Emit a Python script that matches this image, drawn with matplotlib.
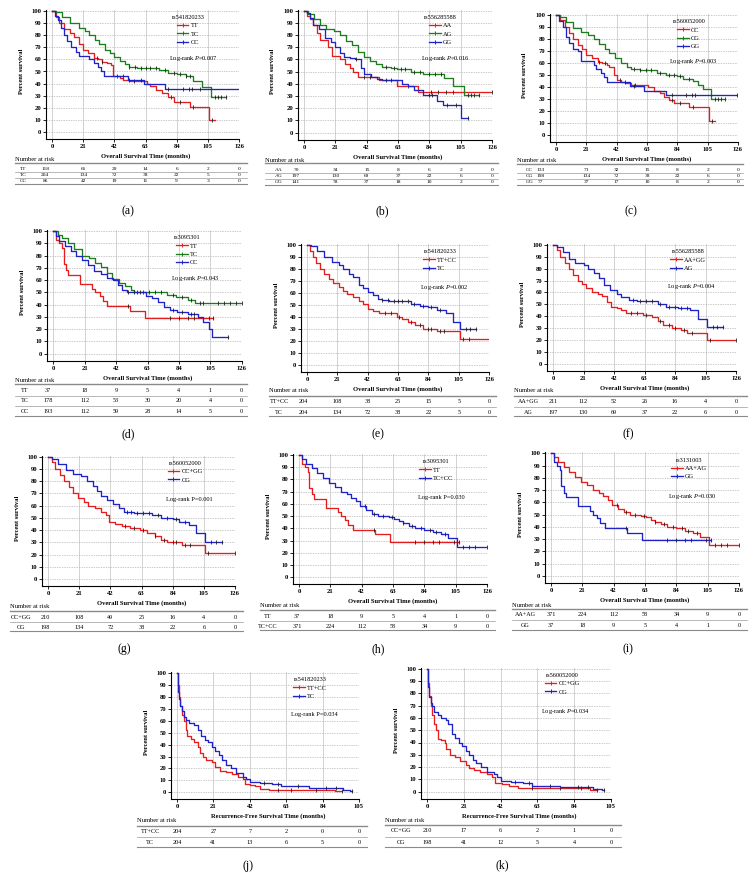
import numpy as np
import matplotlib
matplotlib.use("Agg")
import matplotlib.pyplot as plt
from matplotlib.lines import Line2D
from matplotlib.transforms import blended_transform_factory

plt.rcParams['font.family'] = ['Liberation Serif', 'DejaVu Serif']
plt.rcParams['mathtext.fontset'] = 'custom'
plt.rcParams['mathtext.rm'] = 'Liberation Serif'
plt.rcParams['mathtext.it'] = 'Liberation Serif:italic'
plt.rcParams['mathtext.bf'] = 'Liberation Serif:bold'

# ======================= DATA =======================
os_ticks = [0, 21, 42, 63, 84, 105, 126]
rfs_ticks = [0, 21, 42, 63, 84, 105]
y_ticks = [0, 10, 20, 30, 40, 50, 60, 70, 80, 90, 100]

# (a) rs541820233
a_TT_t = [0, 3, 5, 8, 12, 15, 18, 21, 24, 28, 31, 34, 37, 40, 41, 46, 48, 52, 64, 66, 70, 74, 78, 82, 93, 106]
a_TT_s = [100, 95, 90, 85, 82, 78, 73, 68, 65, 61, 60, 58, 57, 55, 46, 45, 43, 42, 40, 38, 35, 32, 29, 25, 21, 10]
a_TT_end = 110
a_TT_c = [30, 34, 44, 55, 80, 86, 95, 108]
a_TC_t = [0, 3, 7, 12, 18, 22, 25, 29, 32, 36, 39, 42, 46, 49, 52, 57, 72, 78, 84, 90, 95, 101, 107]
a_TC_s = [100, 99, 95, 90, 86, 83, 80, 76, 73, 68, 65, 62, 59, 56, 54, 53, 51, 49, 48, 46, 42, 37, 29]
a_TC_end = 117
a_TC_c = [52, 56, 60, 63, 66, 70, 76, 82, 86, 90, 93, 110, 112, 114, 117]
a_CC_t = [0, 2, 4, 6, 8, 10, 13, 16, 18, 25, 28, 31, 33, 35, 51, 62, 76]
a_CC_s = [100, 96, 92, 86, 80, 75, 70, 66, 63, 60, 57, 54, 50, 46, 43, 40, 36]
a_CC_end = 126
a_CC_c = [48, 52, 60, 78, 88, 92, 94, 100]
a_risk_TT = [118, 66, 29, 14, 6, 2, 0]
a_risk_TC = [204, 134, 72, 38, 22, 5, 0]
a_risk_CC = [86, 42, 19, 11, 9, 3, 0]

# (b) rs556285588
b_AA_t = [0, 2, 4, 6, 8.5, 10.5, 16, 18.5, 24, 27.5, 31, 33, 36.4, 50, 62, 76.6]
b_AA_s = [100, 96, 93, 88, 82, 76, 70, 63, 60, 56, 53, 50, 46, 43, 38, 33]
b_AA_end = 126
b_AA_c = [40, 44, 70, 85, 90, 95, 100, 126]
b_AG_t = [0, 3, 7, 11, 15, 20, 24, 28, 32, 36, 40, 44, 48, 52, 58, 62, 72, 80, 94, 100, 107]
b_AG_s = [100, 97, 93, 88, 85, 83, 80, 75, 72, 66, 62, 59, 56, 54, 53, 52, 50, 48, 45, 38, 31]
b_AG_end = 117
b_AG_c = [55, 60, 65, 68, 74, 78, 84, 88, 92, 110, 112, 114, 117]
b_GG_t = [0, 2, 4, 6, 10, 14, 18, 21, 24, 27, 31, 34, 38, 40, 45, 49, 52, 66, 70, 74, 80, 89, 93, 105]
b_GG_s = [100, 98, 94, 88, 85, 78, 74, 70, 65, 62, 61, 60, 53, 48, 46, 44, 43, 40, 38, 35, 31, 26, 23, 12]
b_GG_end = 110
b_GG_c = [35, 55, 58, 84, 86, 96, 102, 110]
b_risk_AA = [70, 34, 15, 8, 6, 2, 0]
b_risk_AG = [197, 130, 69, 37, 22, 6, 0]
b_risk_GG = [141, 78, 37, 18, 10, 2, 0]

# (c) rs560052000
c_CC_t = [0, 3, 6, 9, 12, 15, 18, 21, 25, 29, 32, 35, 37, 40, 42, 45, 48, 52, 64, 68, 72, 75, 78, 82, 92, 106]
c_CC_s = [100, 96, 90, 85, 80, 75, 72, 67, 64, 61, 60, 58, 57, 50, 46, 44, 43, 42, 40, 37, 35, 32, 29, 27, 23, 12]
c_CC_end = 110
c_CC_c = [30, 34, 44, 55, 80, 86, 95, 108]
c_CG_t = [0, 3, 7, 12, 17, 22, 26, 30, 34, 37, 41, 45, 49, 52, 58, 70, 76, 84, 88, 95, 98, 102, 107]
c_CG_s = [100, 98, 94, 89, 86, 83, 80, 76, 72, 68, 64, 60, 57, 55, 54, 52, 50, 49, 47, 45, 42, 38, 30]
c_CG_end = 117
c_CG_c = [54, 58, 62, 66, 72, 78, 82, 86, 92, 110, 112, 114, 117]
c_GG_t = [0, 2, 5, 7, 9, 12, 15, 17, 26, 28, 31, 33, 35, 51, 61, 76]
c_GG_s = [100, 95, 90, 82, 77, 72, 70, 62, 58, 55, 52, 48, 44, 41, 37, 33]
c_GG_end = 125
c_GG_c = [48, 54, 80, 90, 94, 96, 125]
c_risk_CC = [133, 71, 32, 15, 8, 2, 0]
c_risk_CG = [198, 134, 72, 38, 22, 6, 0]
c_risk_GG = [77, 37, 17, 10, 8, 2, 0]

# (d) rs3095301
d_TT_t = [0, 2, 4, 6, 7, 8.5, 10, 18, 26, 28, 31, 33, 36, 51, 61]
d_TT_s = [100, 93, 90, 86, 73, 68, 64, 57, 53, 50, 47, 43, 39, 35, 29]
d_TT_end = 107
d_TT_c = [50, 78, 84, 90, 94, 104, 107]
d_TC_t = [0, 3, 6, 10, 14, 19, 24, 28, 32, 36, 39, 44, 48, 52, 54, 76, 82, 90, 95]
d_TC_s = [100, 97, 94, 90, 85, 80, 78, 74, 71, 66, 61, 58, 55, 52, 50, 48, 46, 44, 41]
d_TC_end = 126
d_TC_c = [56, 60, 64, 68, 72, 80, 86, 92, 98, 100, 110, 114, 118, 122, 126]
d_CC_t = [0, 2, 4, 8, 12, 15, 19, 23, 27, 32, 36, 40, 43, 46, 49, 62, 66, 70, 74, 78, 83, 90, 97, 100, 104, 106]
d_CC_s = [100, 96, 92, 88, 84, 80, 76, 72, 67, 65, 62, 60, 56, 52, 50, 47, 45, 42, 38, 36, 34, 32, 30, 26, 20, 14]
d_CC_end = 117
d_CC_c = [50, 54, 58, 80, 86, 92, 94, 117]
d_risk_TT = [37, 18, 9, 5, 4, 1, 0]
d_risk_TC = [178, 112, 53, 30, 20, 4, 0]
d_risk_CC = [193, 112, 59, 28, 14, 5, 0]

# (e) rs541820233 (dominant)
e_TTCC_t = [0, 2, 4, 6, 9, 12, 15, 18, 22, 25, 28, 32, 36, 39, 42, 46, 50, 62, 66, 70, 75, 80, 90, 106]
e_TTCC_s = [100, 95, 90, 85, 80, 76, 72, 68, 65, 62, 59, 57, 53, 51, 47, 45, 43, 40, 38, 36, 33, 30, 28, 22]
e_TTCC_end = 126
e_TTCC_c = [54, 58, 64, 72, 78, 84, 86, 92, 95, 108, 112]
e_TC_t = [0, 3, 7, 12, 17, 22, 25, 29, 32, 36, 39, 42, 46, 49, 52, 57, 72, 78, 84, 90, 96, 101, 106]
e_TC_s = [100, 99, 95, 90, 86, 83, 80, 76, 73, 67, 64, 61, 58, 55, 54, 53, 51, 49, 48, 46, 43, 36, 30]
e_TC_end = 117
e_TC_c = [52, 56, 60, 63, 66, 70, 74, 80, 86, 92, 110, 113, 117]
e_risk_TTCC = [204, 108, 38, 25, 15, 5, 0]
e_risk_TC = [204, 134, 72, 38, 22, 5, 0]

# (f) rs556285588 (dominant)
f_AAGG_t = [0, 3, 5, 8, 11, 14, 17, 20, 23, 27, 31, 34, 37, 40, 44, 47, 50, 62, 68, 72, 76, 82, 88, 92, 106]
f_AAGG_s = [100, 96, 90, 85, 80, 75, 70, 67, 64, 60, 59, 57, 52, 48, 47, 45, 43, 41, 39, 36, 33, 30, 28, 26, 20]
f_AAGG_end = 126
f_AAGG_c = [54, 58, 64, 74, 80, 84, 90, 96, 108, 126]
f_AG_t = [0, 3, 7, 11, 15, 21, 24, 28, 32, 35, 39, 44, 47, 52, 58, 72, 78, 86, 94, 100, 106]
f_AG_s = [100, 98, 94, 88, 85, 83, 80, 76, 72, 66, 62, 59, 56, 54, 53, 50, 48, 47, 45, 38, 31]
f_AG_end = 117
f_AG_c = [55, 60, 64, 68, 74, 80, 84, 88, 92, 110, 113, 117]
f_risk_AAGG = [211, 112, 52, 26, 16, 4, 0]
f_risk_AG = [197, 130, 69, 37, 22, 6, 0]

# (g) rs560052000 (dominant)
g_CCGG_t = [0, 3, 5, 8, 11, 14, 17, 20, 24, 27, 32, 36, 39, 41, 45, 50, 55, 62, 67, 72, 76, 80, 90, 106]
g_CCGG_s = [100, 96, 90, 85, 80, 75, 70, 66, 63, 60, 58, 55, 52, 47, 45, 43, 42, 40, 38, 35, 32, 30, 28, 21]
g_CCGG_end = 126
g_CCGG_c = [52, 58, 64, 72, 78, 84, 86, 92, 96, 108, 126]
g_CG_t = [0, 3, 7, 12, 17, 22, 26, 30, 33, 36, 40, 44, 48, 51, 58, 70, 76, 84, 88, 95, 100, 106]
g_CG_s = [100, 98, 94, 89, 86, 84, 80, 76, 72, 68, 65, 61, 58, 55, 54, 52, 50, 49, 47, 44, 38, 30]
g_CG_end = 117
g_CG_c = [53, 56, 60, 64, 68, 74, 80, 86, 92, 110, 113, 117]
g_risk_CCGG = [210, 108, 49, 25, 16, 4, 0]
g_risk_CG = [198, 134, 72, 38, 22, 6, 0]

# (h) rs3095301 (dominant)
h_TT_t = [0, 2, 4, 6, 7, 8.5, 10, 18, 26, 28, 31, 33, 36, 51, 61]
h_TT_s = [100, 93, 90, 86, 73, 68, 64, 57, 53, 50, 47, 43, 39, 35, 29]
h_TT_end = 107
h_TT_c = [50, 78, 84, 90, 94, 104, 107]
h_TCCC_t = [0, 2, 5, 9, 12, 16, 20, 24, 28, 32, 35, 38, 41, 45, 49, 53, 60, 64, 67, 70, 74, 78, 84, 90, 95, 100, 106]
h_TCCC_s = [100, 97, 93, 89, 85, 81, 77, 74, 70, 68, 65, 62, 58, 55, 52, 50, 49, 48, 46, 44, 42, 40, 39, 37, 35, 32, 25]
h_TCCC_end = 126
h_TCCC_c = [44, 50, 56, 62, 70, 76, 82, 88, 92, 98, 110, 114, 118, 126]
h_risk_TT = [37, 18, 9, 5, 4, 1, 0]
h_risk_TCCC = [371, 224, 112, 58, 34, 9, 0]

# (i) rs3131003
i_AAAG_t = [0, 2, 5, 9, 12, 16, 20, 24, 28, 32, 35, 38, 41, 45, 49, 53, 60, 64, 67, 70, 74, 78, 84, 90, 95, 100, 106]
i_AAAG_s = [100, 97, 93, 89, 85, 81, 77, 74, 70, 68, 65, 62, 58, 55, 52, 50, 49, 48, 46, 44, 42, 40, 39, 37, 35, 32, 25]
i_AAAG_end = 126
i_AAAG_c = [44, 50, 56, 62, 70, 76, 82, 88, 92, 98, 110, 114, 118, 126]
i_GG_t = [0, 2, 4, 6, 7, 8.5, 10, 18, 26, 28, 31, 33, 36, 51, 61]
i_GG_s = [100, 93, 90, 86, 73, 68, 64, 57, 53, 50, 47, 43, 39, 35, 29]
i_GG_end = 107
i_GG_c = [50, 78, 84, 90, 94, 104, 107]
i_risk_AAAG = [371, 224, 112, 58, 34, 9, 0]
i_risk_GG = [37, 18, 9, 5, 4, 1, 0]

# (j) rs541820233 RFS
j_TTCC_t = [0, 0.5, 1, 2, 3, 4, 5, 6, 8, 10, 12, 13, 15, 17, 20, 22, 25, 28, 32, 35, 38, 39, 42, 45, 48, 53, 91]
j_TTCC_s = [100, 90, 80, 72, 65, 60, 52, 47, 45, 42, 38, 33, 30, 27, 25, 21, 18, 17, 15, 13, 11, 7, 6, 5, 3, 2, 1]
j_TTCC_end = 95
j_TTCC_c = [58, 66, 80, 95]
j_TC_t = [0, 0.5, 1, 2, 3, 4, 5, 7, 10, 12, 14, 16, 18, 20, 22, 24, 26, 28, 31, 34, 38, 40, 42, 48, 55, 60, 76, 96, 100]
j_TC_s = [100, 84, 78, 72, 68, 63, 61, 58, 56, 52, 47, 44, 42, 38, 35, 31, 27, 23, 20, 16, 13, 11, 9, 8, 7, 5, 4, 2, 1]
j_TC_end = 101
j_TC_c = [50, 58, 70, 86, 92, 101]
j_risk_TTCC = [204, 27, 7, 2, 0, 0]
j_risk_TC = [204, 41, 13, 6, 5, 0]

# (k) rs560052000 RFS
k_CCGG_t = [0, 0.5, 1, 2, 3, 4, 5, 6, 8, 10, 11, 13, 16, 19, 22, 24, 27, 30, 34, 37, 39, 43, 47, 52, 93]
k_CCGG_s = [100, 88, 78, 70, 62, 55, 50, 43, 42, 40, 35, 30, 28, 25, 22, 19, 18, 16, 14, 12, 7, 6, 5, 3, 1]
k_CCGG_end = 97
k_CCGG_c = [60, 76, 88, 97]
k_CG_t = [0, 0.5, 1, 2, 3, 4, 6, 8, 11, 12, 14, 16, 18, 20, 22, 24, 26, 28, 31, 34, 38, 40, 42, 48, 55, 60, 76, 95, 100]
k_CG_s = [100, 85, 77, 72, 70, 65, 62, 60, 58, 55, 47, 44, 40, 37, 33, 30, 26, 23, 20, 16, 14, 12, 9, 8, 7, 5, 4, 2, 1]
k_CG_end = 101
k_CG_c = [50, 58, 70, 86, 92, 101]
k_risk_CCGG = [210, 17, 6, 2, 1, 0]
k_risk_CG = [198, 41, 12, 5, 4, 0]

# ======================= STYLE / LAYOUT =======================
RED, GREEN, BLUE = '#e41e1e', '#1b7d1b', '#1f22c6'
W, H = 755, 892
OS_LABEL = 'Overall Survival Time (months)'
RFS_LABEL = 'Recurrence-Free Survival Time (months)'

panels = [
    dict(cap='(a)', snp='rs541820233', p=r'Log-rank $P$=0.007', xmax=126, ticks=os_ticks, xl=OS_LABEL,
         px=(52, 239, 10.7, 132.3), cappos=(128, 211), tfs=3.9,
         tab=(15, 246.7, 159.3, 163.3, [169.3, 175.2, 181.0], 184.0, 23.3, -4.7),
         groups=[('TT', a_TT_t, a_TT_s, a_TT_end, a_TT_c, RED, a_risk_TT),
                 ('TC', a_TC_t, a_TC_s, a_TC_end, a_TC_c, GREEN, a_risk_TC),
                 ('CC', a_CC_t, a_CC_s, a_CC_end, a_CC_c, BLUE, a_risk_CC)]),
    dict(cap='(b)', snp='rs556285588', p=r'Log-rank $P$=0.016', xmax=126, ticks=os_ticks, xl=OS_LABEL,
         px=(304, 492, 10.7, 132.7), cappos=(382, 211), tfs=3.9,
         tab=(265, 498.3, 160, 163.3, [170, 175.9, 181.8], 184.6, 279, -5.4),
         groups=[('AA', b_AA_t, b_AA_s, b_AA_end, b_AA_c, RED, b_risk_AA),
                 ('AG', b_AG_t, b_AG_s, b_AG_end, b_AG_c, GREEN, b_risk_AG),
                 ('GG', b_GG_t, b_GG_s, b_GG_end, b_GG_c, BLUE, b_risk_GG)]),
    dict(cap='(c)', snp='rs560052000', p=r'Log-rank $P$=0.003', xmax=126, ticks=os_ticks, xl=OS_LABEL,
         px=(556, 738, 15, 135), cappos=(631, 211), tfs=3.9,
         tab=(516.7, 743.3, 160, 164, [170, 176, 181.9], 184.6, 529.3, -11),
         groups=[('CC', c_CC_t, c_CC_s, c_CC_end, c_CC_c, RED, c_risk_CC),
                 ('CG', c_CG_t, c_CG_s, c_CG_end, c_CG_c, GREEN, c_risk_CG),
                 ('GG', c_GG_t, c_GG_s, c_GG_end, c_GG_c, BLUE, c_risk_GG)]),
    dict(cap='(d)', snp='rs3095301', p=r'Log-rank $P$=0.043', xmax=126, ticks=os_ticks, xl=OS_LABEL,
         px=(53.3, 241.7, 231, 353.7), cappos=(128, 434), tfs=4.4,
         tab=(15, 247, 380, 384.3, [391, 401, 411.7], 415.7, 25, -3.7),
         groups=[('TT', d_TT_t, d_TT_s, d_TT_end, d_TT_c, RED, d_risk_TT),
                 ('TC', d_TC_t, d_TC_s, d_TC_end, d_TC_c, GREEN, d_risk_TC),
                 ('CC', d_CC_t, d_CC_s, d_CC_end, d_CC_c, BLUE, d_risk_CC)]),
    dict(cap='(e)', snp='rs541820233', p=r'Log-rank $P$=0.002', xmax=126, ticks=os_ticks, xl=OS_LABEL,
         px=(307, 489, 245, 365), cappos=(378, 434), tfs=4.4,
         tab=(269, 496, 390.7, 395.7, [401.7, 412.3], 415.7, 279, -2.6),
         groups=[('TT+CC', e_TTCC_t, e_TTCC_s, e_TTCC_end, e_TTCC_c, RED, e_risk_TTCC),
                 ('TC', e_TC_t, e_TC_s, e_TC_end, e_TC_c, BLUE, e_risk_TC)]),
    dict(cap='(f)', snp='rs556285588', p=r'Log-rank $P$=0.004', xmax=126, ticks=os_ticks, xl=OS_LABEL,
         px=(553, 736, 245, 363.7), cappos=(628, 434), tfs=4.4,
         tab=(514, 746.7, 390.7, 395.7, [401.7, 412.3], 415.7, 528, 0),
         groups=[('AA+GG', f_AAGG_t, f_AAGG_s, f_AAGG_end, f_AAGG_c, RED, f_risk_AAGG),
                 ('AG', f_AG_t, f_AG_s, f_AG_end, f_AG_c, BLUE, f_risk_AG)]),
    dict(cap='(g)', snp='rs560052000', p='Log-rank P=0.001', xmax=126, ticks=os_ticks, xl=OS_LABEL,
         px=(48, 235, 456.7, 579), cappos=(124, 649), tfs=4.4,
         tab=(10, 243, 606, 610.7, [617.3, 627.3], 630.7, 21, -2),
         groups=[('CC+GG', g_CCGG_t, g_CCGG_s, g_CCGG_end, g_CCGG_c, RED, g_risk_CCGG),
                 ('CG', g_CG_t, g_CG_s, g_CG_end, g_CG_c, BLUE, g_risk_CG)]),
    dict(cap='(h)', snp='rs3095301', p='Log-rank P=0.030', xmax=126, ticks=os_ticks, xl=OS_LABEL,
         px=(299, 487, 455, 577.3), cappos=(378, 649), tfs=4.4,
         tab=(260, 495, 605.7, 610, [616, 626.7], 630, 268, -1.3),
         groups=[('TT', h_TT_t, h_TT_s, h_TT_end, h_TT_c, RED, h_risk_TT),
                 ('TC+CC', h_TCCC_t, h_TCCC_s, h_TCCC_end, h_TCCC_c, BLUE, h_risk_TCCC)]),
    dict(cap='(i)', snp='rs3131003', p=r'Log-rank $P$=0.030', xmax=126, ticks=os_ticks, xl=OS_LABEL,
         px=(551, 739, 453.3, 576), cappos=(628, 649), tfs=4.4,
         tab=(511.7, 746.7, 605.3, 609.3, [615, 625.7], 630, 525, 0),
         groups=[('AA+AG', i_AAAG_t, i_AAAG_s, i_AAAG_end, i_AAAG_c, RED, i_risk_AAAG),
                 ('GG', i_GG_t, i_GG_s, i_GG_end, i_GG_c, BLUE, i_risk_GG)]),
    dict(cap='(j)', snp='rs541820233', p='Log-rank P=0.034', xmax=105, ticks=rfs_ticks, xl=RFS_LABEL,
         px=(177, 359, 673, 792.3), cappos=(248, 866), tfs=4.4,
         tab=(136.7, 366.7, 820.7, 825.7, [831.7, 842.3], 846.7, 150, 0),
         groups=[('TT+CC', j_TTCC_t, j_TTCC_s, j_TTCC_end, j_TTCC_c, RED, j_risk_TTCC),
                 ('TC', j_TC_t, j_TC_s, j_TC_end, j_TC_c, BLUE, j_risk_TC)]),
    dict(cap='(k)', snp='rs560052000', p=r'Log-rank $P$=0.034', xmax=105, ticks=rfs_ticks, xl=RFS_LABEL,
         px=(427, 611, 668.7, 791.7), cappos=(502, 865), tfs=4.4,
         tab=(385, 621, 820, 825, [830.7, 842.3], 846.7, 401, 0),
         groups=[('CC+GG', k_CCGG_t, k_CCGG_s, k_CCGG_end, k_CCGG_c, RED, k_risk_CCGG),
                 ('CG', k_CG_t, k_CG_s, k_CG_end, k_CG_c, BLUE, k_risk_CG)]),
]

fig = plt.figure(figsize=(W / 100, H / 100), dpi=100)


def fy(py):
    return 1 - py / H


def hline(x_left, x_right, py, lw, color):
    fig.add_artist(Line2D([x_left / W, x_right / W], [fy(py), fy(py)],
                          transform=fig.transFigure, lw=lw, color=color))


PADX, PADY = 6.0, 7.0
TICKFS, LABFS, LEGFS = 4.8, 4.7, 4.6

for P in panels:
    x0, x1, y100, y0 = P['px']
    xmax = P['xmax']
    sx = (x1 - x0) / xmax
    sy = (y0 - y100) / 100.0
    left = x0 - PADX
    bottom = y0 + PADY
    top = y100 - 1.0
    axw, axh = x1 - left, bottom - top
    ax = fig.add_axes([left / W, fy(bottom), axw / W, axh / H])
    ax.set_xlim(-PADX / sx, xmax)
    ax.set_ylim(-PADY / sy, 100 + 1.0 / sy)

    ax.set_xticks(P['ticks'])
    ax.set_yticks(y_ticks)
    ax.grid(axis='x', color='#cbcbcb', lw=0.6, ls='-')
    ax.grid(axis='y', color='#b5b5b5', lw=0.5, ls=(0, (2.0, 1.5)))
    ax.set_axisbelow(True)
    for sp in ('top', 'right'):
        ax.spines[sp].set_visible(False)
    for sp in ('left', 'bottom'):
        ax.spines[sp].set_linewidth(0.8)
    ax.tick_params(axis='both', labelsize=TICKFS, length=2.0, width=0.6, pad=1.5)
    for lab in ax.get_xticklabels() + ax.get_yticklabels():
        lab.set_fontweight('bold')

    ax.set_xlabel(P['xl'], fontsize=LABFS, fontweight='bold')
    ax.xaxis.label.set_verticalalignment('center')
    ax.xaxis.set_label_coords(((x0 + x1) / 2 - left) / axw, -17.0 / axh)
    ax.set_ylabel('Percent survival', fontsize=LABFS, fontweight='bold')
    ax.yaxis.label.set_verticalalignment('center')
    ax.yaxis.set_label_coords((x0 - 31 - left) / axw, 1 - ((y0 + y100) / 2 - top) / axh)

    handles = []
    for lab, t, s, end, cens, col, risk in P['groups']:
        xs = list(t) + [end]
        ys = list(s) + [s[-1]]
        ax.step(xs, ys, where='post', color=col, lw=0.95)
        ta = np.asarray(t, float)
        sa = np.asarray(s, float)
        cy = sa[np.searchsorted(ta, cens, side='right') - 1]
        ax.plot(cens, cy, ls='none', marker='|', ms=2.2, mew=0.6, color='#202020')
        handles.append(Line2D([], [], color=col, lw=0.95, marker='|', ms=2.8, mew=0.7))

    ax.legend(handles, [g[0] for g in P['groups']], title=P['snp'],
              loc='upper left', bbox_to_anchor=(0.64 * xmax, 96.5),
              bbox_transform=ax.transData, frameon=False, fontsize=LEGFS,
              title_fontsize=LEGFS, handlelength=1.8, handletextpad=0.35,
              labelspacing=0.45, borderpad=0, borderaxespad=0, numpoints=1)
    ng = len(P['groups'])
    ax.text(0.755 * xmax, 61 if ng == 3 else 65, P['p'], fontsize=LEGFS,
            ha='center', va='center')

    # number at risk table
    tfs = P['tfs']
    tl, tr, nar_y, top_y, row_ys, bot_y, lab_cx, first_x = P['tab']
    fig.text(tl / W, fy(nar_y), 'Number at risk', fontsize=4.7,
             ha='left', va='center')
    hline(tl, tr, top_y, 1.0, '#8a8a8a')
    for k in range(len(row_ys) - 1):
        hline(tl, tr, (row_ys[k] + row_ys[k + 1]) / 2, 0.5, '#9a9a9a')
    hline(tl, tr, bot_y, 0.8, '#8a8a8a')
    bt = blended_transform_factory(ax.transData, fig.transFigure)
    cols = [first_x] + list(P['ticks'][1:])
    for (lab, t, s, end, cens, col, risk), ry in zip(P['groups'], row_ys):
        fig.text(lab_cx / W, fy(ry), lab, fontsize=tfs, ha='center', va='center')
        for cx, v in zip(cols, risk):
            ax.text(cx, fy(ry), str(v), transform=bt, fontsize=tfs,
                    ha='center', va='center', clip_on=False)

    cxp, cyp = P['cappos']
    fig.text(cxp / W, fy(cyp), P['cap'], fontsize=8.5, ha='center', va='center')

fig.savefig('out.png', dpi=100)
